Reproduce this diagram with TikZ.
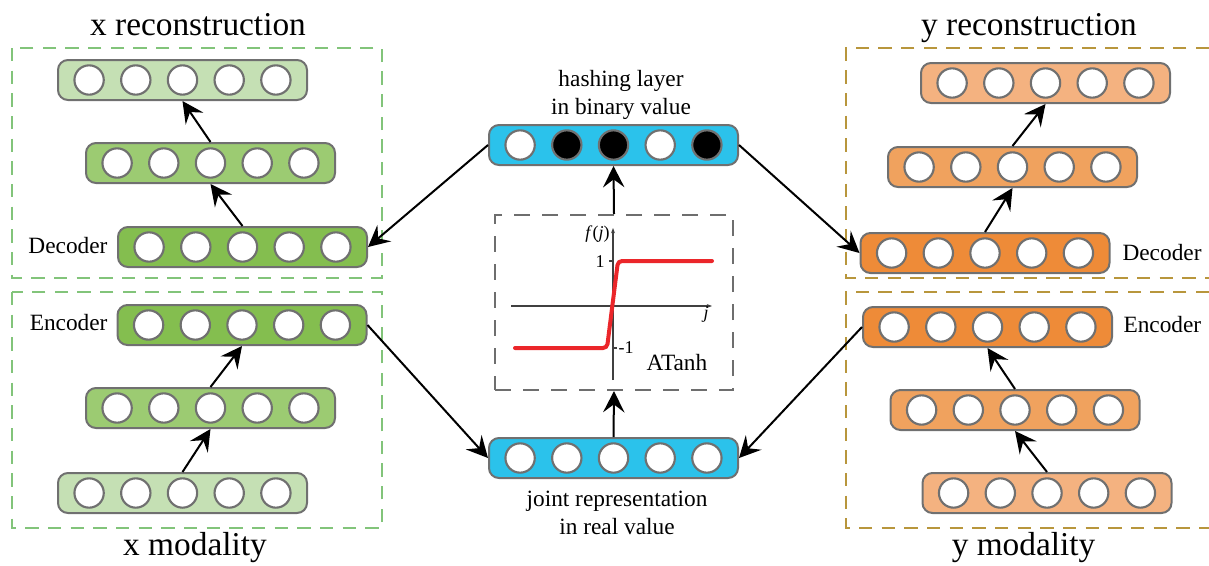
\documentclass[tikz,border=0pt]{standalone}
\usepackage{fontspec}
\setmainfont{Liberation Serif}
\usetikzlibrary{arrows.meta}

\definecolor{laygray}{RGB}{112,112,112}
\definecolor{gdark}{RGB}{132,190,79}
\definecolor{gmid}{RGB}{156,203,114}
\definecolor{glight}{RGB}{197,224,180}
\definecolor{odark}{RGB}{238,139,56}
\definecolor{omid}{RGB}{240,162,94}
\definecolor{olight}{RGB}{244,178,128}
\definecolor{hblue}{RGB}{43,194,235}
\definecolor{gdash}{RGB}{130,196,122}
\definecolor{bdash}{RGB}{184,150,60}
\definecolor{boxgray}{RGB}{110,110,110}
\definecolor{axisgray}{RGB}{64,64,64}
\definecolor{curvered}{RGB}{235,38,42}

\tikzset{every picture/.style={line width=0.75pt}}
\tikzset{
  layer/.style={draw=laygray, line width=1.5pt, rounded corners=7.5pt, minimum width=186.75pt, minimum height=30pt, inner sep=0pt},
  neuron/.style={circle, draw=laygray, line width=1.6pt, fill=white, minimum size=22pt, inner sep=0pt},
  flow/.style={line width=1.5pt, arrows={-Stealth[length=16pt, width=16pt, inset=6pt]}},
  dbox/.style={line width=1.5pt, dash pattern=on 10pt off 7pt},
  title/.style={font=\fontsize{25}{30}\selectfont, inner sep=0pt, anchor=base},
  lbl/.style={font=\fontsize{17.5}{21}\selectfont, inner sep=0pt},
  small/.style={font=\fontsize{13.5}{15}\selectfont, inner sep=0pt},
  axis/.style={draw=axisgray, line width=1pt, -{Stealth[length=4pt,width=3pt]}},
}

% one layer: name, centre x, centre y, fill
\newcommand{\nnlayer}[4]{%
  \node[layer, fill=#4] (#1) at (#2,#3) {};
  \foreach \i in {1,...,5}
    \node[neuron] (#1-\i) at ({#2+(\i-3)*46.7},#3) {};
}

\begin{document}
\begin{tikzpicture}[x=0.75pt,y=0.75pt,yscale=-1,xscale=1]
\useasboundingbox (0,0) rectangle (1209,565);

%Shape: Dashed boxes [x side]
\draw[dbox, draw=gdash] (12,48) rectangle (382,278);
\draw[dbox, draw=gdash] (12,292) rectangle (382,528);
%Shape: Dashed boxes [y side, open to the right]
\draw[dbox, draw=bdash] (1209,48) -- (846,48) -- (846,278) -- (1209,278);
\draw[dbox, draw=bdash] (1209,292) -- (846,292) -- (846,528) -- (1209,528);

%Shape: x modality layers
\nnlayer{xin}{182.5}{493}{glight}
\nnlayer{xhid1}{210.5}{408}{gmid}
\nnlayer{xenc}{242}{325}{gdark}
\nnlayer{xdec}{242.5}{247}{gdark}
\nnlayer{xhid2}{210.5}{163}{gmid}
\nnlayer{xout}{182.5}{80}{glight}

%Shape: y modality layers
\nnlayer{yin}{1047}{493}{olight}
\nnlayer{yhid1}{1015}{410}{omid}
\nnlayer{yenc}{987.5}{327}{odark}
\nnlayer{ydec}{985}{253}{odark}
\nnlayer{yhid2}{1012.5}{167}{omid}
\nnlayer{yout}{1045.5}{83}{olight}

%Shape: joint and hashing layers
\nnlayer{joint}{613.5}{458}{hblue}
\node[layer, fill=hblue] (hash) at (613.5,145) {};
\foreach \i/\c in {1/white,2/black,3/black,4/white,5/black}
  \node[neuron, fill=\c] (hash-\i) at ({613.5+(\i-3)*46.7},145) {};

%Shape: ATanh box
\node[draw=boxgray, line width=1.5pt, dash pattern=on 12pt off 9pt, minimum width=178.5pt, minimum height=131.25pt, inner sep=0pt] (atanh) at (614,302.5) {};

%Straight Lines [activation plot]
\draw[axis] (511,306) -- (712,306);
\draw[axis] (613,380) -- (613,228);
\draw[axisgray, line width=1pt] (609,261) -- (613,261);
\draw[axisgray, line width=1pt] (613,348) -- (617,348);
\draw[curvered, line width=3pt, line cap=round, rounded corners=3pt] (515,348) -- (607,348) -- (618,261) -- (712,261);

%Straight Lines [inside the columns]
\draw[flow] (xin-3 |- xin.north) -- (xhid1-3 |- xhid1.south);
\draw[flow] (xhid1-3 |- xhid1.north) -- (xenc-3 |- xenc.south);
\draw[flow] (xdec-3 |- xdec.north) -- (xhid2-3 |- xhid2.south);
\draw[flow] (xhid2-3 |- xhid2.north) -- (xout-3 |- xout.south);
\draw[flow] (yin-3 |- yin.north) -- (yhid1-3 |- yhid1.south);
\draw[flow] (yhid1-3 |- yhid1.north) -- (yenc-3 |- yenc.south);
\draw[flow] (ydec-3 |- ydec.north) -- (yhid2-3 |- yhid2.south);
\draw[flow] (yhid2-3 |- yhid2.north) -- (yout-3 |- yout.south);

%Straight Lines [across]
\draw[flow] (xenc.east) -- (joint.west);
\draw[flow] (yenc.west) -- (joint.east);
\draw[flow] (joint.north) -- (atanh.south);
\draw[flow] (atanh.north) -- (hash.south);
\draw[flow] (hash.west) -- (xdec.east);
\draw[flow] (hash.east) -- (ydec.west);

% Text Node
\node[title] (xrec) at (198,35) {x reconstruction};
% Text Node
\node[title] (yrec) at (1029,35) {y reconstruction};
% Text Node
\node[title] (xmod) at (195,555) {x modality};
% Text Node
\node[title] (ymod) at (1023.5,555) {y modality};
% Text Node
\node[lbl, anchor=base east] (xdeclbl) at (108,253) {Decoder};
% Text Node
\node[lbl, anchor=base east] (xenclbl) at (108,330) {Encoder};
% Text Node
\node[lbl, anchor=base west] (ydeclbl) at (1122,260) {Decoder};
% Text Node
\node[lbl, anchor=base west] (yenclbl) at (1123,332) {Encoder};
% Text Node
\node[lbl, anchor=south, align=center] (hashlbl) at (621,120) {hashing layer\\in binary value};
% Text Node
\node[lbl, anchor=north, align=center] (jointlbl) at (617,491) {joint representation\\in real value};
% Text Node
\node[lbl, anchor=base] (atanhlbl) at (677,370) {ATanh};
% Text Node
\node[small, anchor=base east] (fj) at (610,238) {\textit{f}(\textit{j})};
% Text Node
\node[small, anchor=base east] (one) at (605,267) {1};
% Text Node
\node[small, anchor=base west] (mone) at (618,353) {-1};
% Text Node
\node[small, anchor=base] (jlbl) at (706,318) {\textit{j}};

\end{tikzpicture}
\end{document}
